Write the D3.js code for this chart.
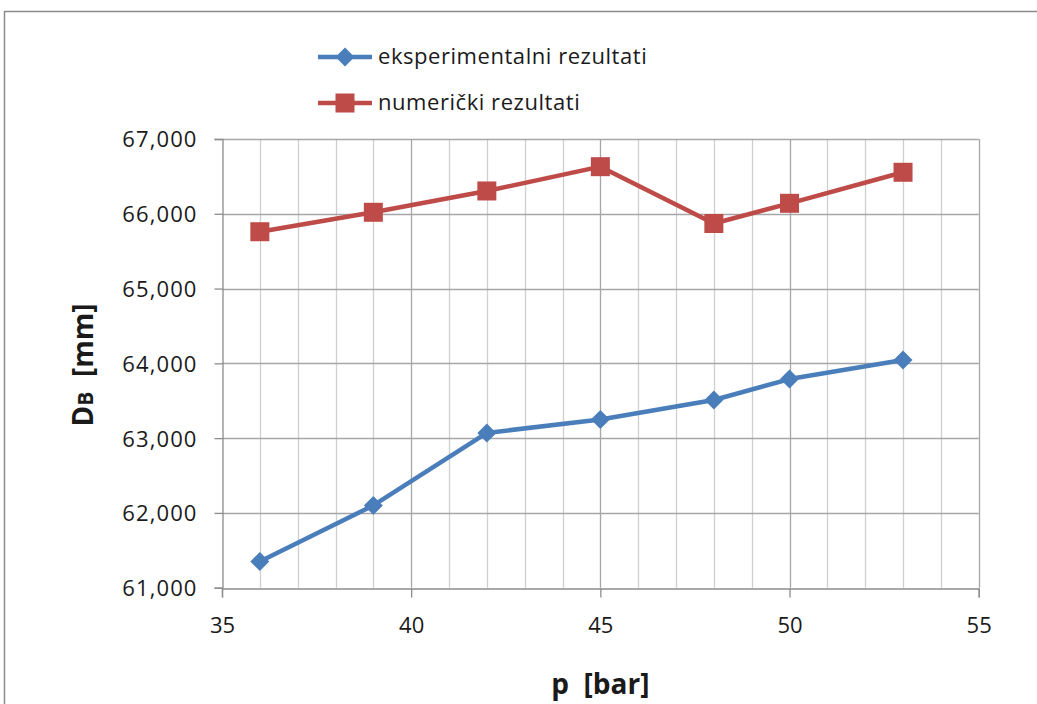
<!DOCTYPE html>
<html>
<head>
<meta charset="utf-8">
<script src="https://cdn.jsdelivr.net/npm/d3@7"></script>
<style>
  html, body { margin: 0; padding: 0; background: #fff; }
  svg { display: block; }
  text { font-family: "Open Sans", "Liberation Sans", sans-serif; fill: #1a1a1a; white-space: pre; }
</style>
</head>
<body>
<svg id="chart" width="1037" height="704"></svg>
<script>
// Pressure values [bar]
const pressure = [36, 39, 42, 45, 48, 50, 53];
// Diameter D_B [mm], measured
const experimental = [61.35, 62.10, 63.07, 63.25, 63.51, 63.79, 64.045];
// Diameter D_B [mm], simulated
const numerical = [65.76, 66.02, 66.305, 66.63, 65.87, 66.14, 66.555];

const seriesNames = ["eksperimentalni rezultati", "numerički rezultati"];
const xTicks = [35, 40, 45, 50, 55];
const yTicks = [61, 62, 63, 64, 65, 66, 67];
const xTitle = "p  [bar]";

const svg = d3.select("#chart");
const W = 1037, H = 704;

// Croatian number format: decimal comma
const hr = d3.formatLocale({ decimal: ",", thousands: ".", grouping: [3], currency: ["", " kn"] });
const fmtY = hr.format(".3f");

const x = d3.scaleLinear().domain([35, 55]).range([222, 978.7]);
const y = d3.scaleLinear().domain([61, 67]).range([587.7, 139]);

// chart frame
svg.append("rect")
  .attr("x", 4.5).attr("y", 11.5)
  .attr("width", W + 20).attr("height", H + 20)
  .attr("fill", "none").attr("stroke", "#8c8c8c").attr("stroke-width", 1.5);

const grid = svg.append("g");
// minor vertical gridlines every 1 bar
grid.selectAll("line.vminor")
  .data(d3.range(36, 55).filter(v => v % 5 !== 0))
  .join("line")
  .attr("x1", d => Math.round(x(d)) + 0.5).attr("x2", d => Math.round(x(d)) + 0.5)
  .attr("y1", y(67)).attr("y2", y(61))
  .attr("stroke", "#cfcfcf").attr("stroke-width", 1.3);
// major vertical gridlines
grid.selectAll("line.vmajor")
  .data(xTicks.slice(1))
  .join("line")
  .attr("x1", d => Math.round(x(d)) + 0.5).attr("x2", d => Math.round(x(d)) + 0.5)
  .attr("y1", y(67)).attr("y2", y(61))
  .attr("stroke", "#a6a6a6").attr("stroke-width", 1.3);
// horizontal gridlines
grid.selectAll("line.h")
  .data(yTicks.slice(1))
  .join("line")
  .attr("x1", x(35)).attr("x2", x(55))
  .attr("y1", d => Math.round(y(d)) + 0.5).attr("y2", d => Math.round(y(d)) + 0.5)
  .attr("stroke", "#a6a6a6").attr("stroke-width", 1.3);

// axes
const xAxis = svg.append("g")
  .attr("transform", `translate(0,${Math.round(y(61)) + 0.5})`)
  .call(d3.axisBottom(x).tickValues(xTicks).tickSize(9).tickPadding(20).tickFormat(d3.format("d")));
const yAxis = svg.append("g")
  .attr("transform", `translate(${Math.round(x(35)) + 0.5},0)`)
  .call(d3.axisLeft(y).tickValues(yTicks).tickSize(8).tickPadding(17).tickFormat(fmtY));

[xAxis, yAxis].forEach(g => {
  g.select(".domain").attr("stroke", "#8c8c8c").attr("stroke-width", 1.3);
  g.selectAll(".tick line").attr("stroke", "#8c8c8c").attr("stroke-width", 1.3);
  g.selectAll(".tick text")
    .attr("font-family", "'Open Sans', sans-serif")
    .attr("font-size", 22).attr("fill", "#1a1a1a");
});
yAxis.selectAll(".tick text").attr("letter-spacing", 1.1).attr("dy", "0.36em");

// series
const series = [
  { name: seriesNames[0], values: experimental, color: "#4a7ebb", shape: "diamond" },
  { name: seriesNames[1], values: numerical, color: "#be4b48", shape: "square" }
];

const line = d3.line().x(d => x(d[0])).y(d => y(d[1]));

function marker(sel, shape, color) {
  if (shape === "square") {
    sel.append("rect").attr("x", -9.5).attr("y", -9.5).attr("width", 19).attr("height", 19)
      .attr("fill", color);
  } else {
    sel.append("path").attr("d", "M0,-9.5L9.5,0L0,9.5L-9.5,0Z").attr("fill", color);
  }
}

series.forEach(s => {
  const pts = pressure.map((p, i) => [p, s.values[i]]);
  svg.append("path").datum(pts)
    .attr("d", line)
    .attr("fill", "none").attr("stroke", s.color).attr("stroke-width", 4.5)
    .attr("stroke-linejoin", "round");
  svg.append("g").selectAll("g").data(pts).join("g")
    .attr("transform", d => `translate(${x(d[0])},${y(d[1])})`)
    .each(function () { marker(d3.select(this), s.shape, s.color); });
});

// legend
const legend = svg.append("g");
series.forEach((s, i) => {
  const ly = 57 + i * 46;
  const g = legend.append("g").attr("transform", `translate(0,${ly})`);
  g.append("line").attr("x1", 318).attr("x2", 372).attr("y1", 0).attr("y2", 0)
    .attr("stroke", s.color).attr("stroke-width", 4.5);
  const m = g.append("g").attr("transform", "translate(345,0)");
  marker(m, s.shape, s.color);
  g.append("text").attr("x", 378).attr("y", 0).attr("dy", "0.34em")
    .attr("font-size", 22).attr("letter-spacing", 0.55)
    .text(s.name);
});

// axis titles
svg.append("text")
  .attr("x", x(45)).attr("y", 694)
  .attr("text-anchor", "middle")
  .attr("font-size", 28).attr("font-weight", "bold")
  .attr("fill", "#000")
  .text(xTitle);

const yt = svg.append("text")
  .attr("transform", "translate(93,365) rotate(-90)")
  .attr("text-anchor", "middle")
  .attr("font-size", 28).attr("font-weight", "bold")
  .attr("fill", "#000");
yt.append("tspan").text("D");
yt.append("tspan").attr("font-size", 21).text("B");
yt.append("tspan").text("  [mm]");
</script>
</body>
</html>
